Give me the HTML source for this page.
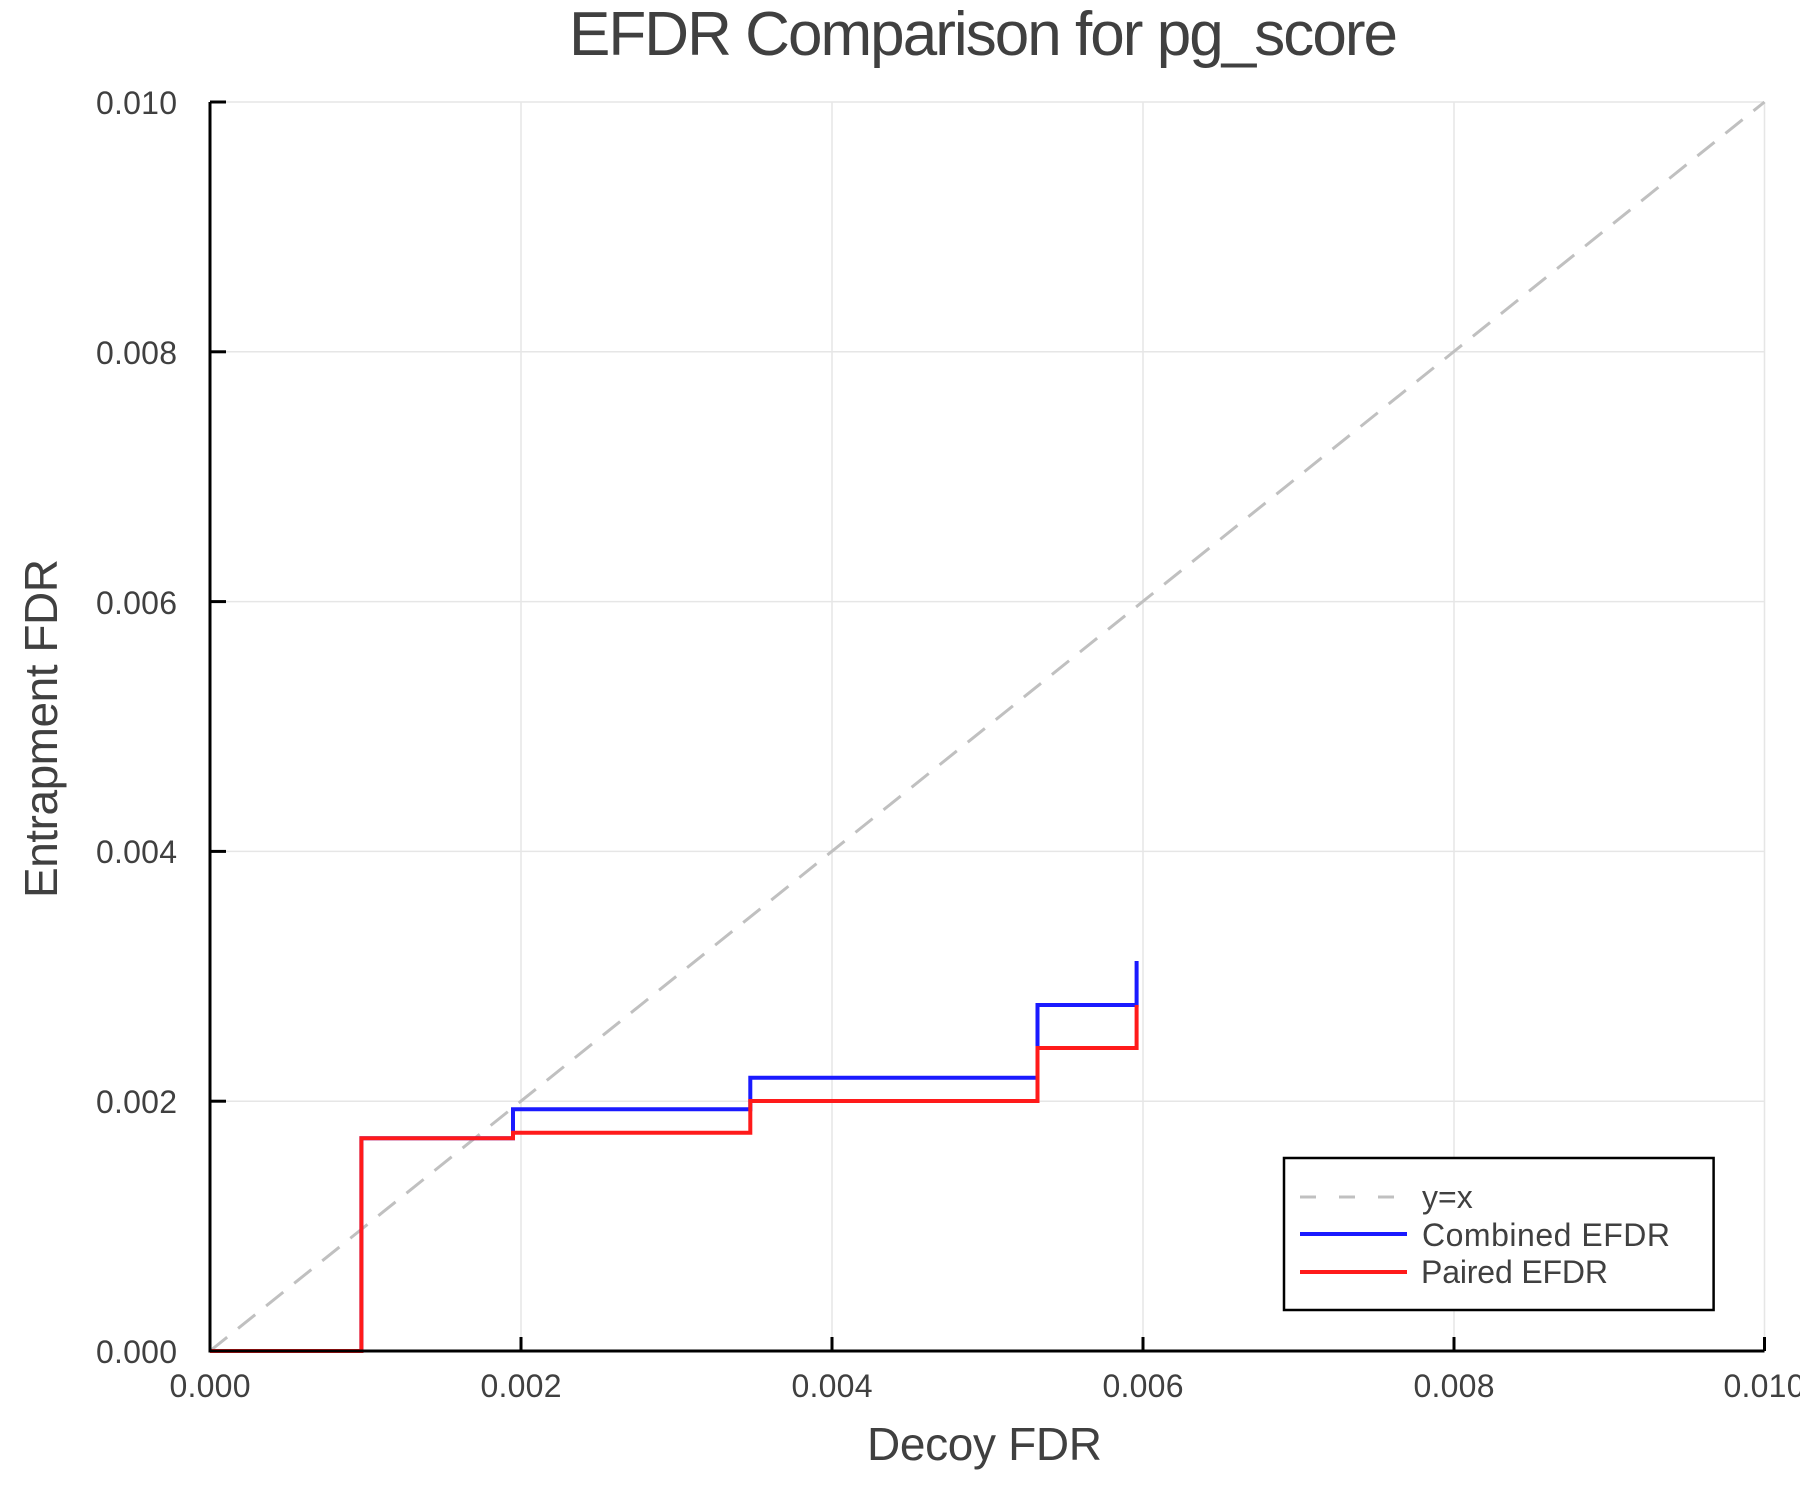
<!DOCTYPE html>
<html><head><style>html,body{margin:0;padding:0;background:#fff}svg{display:block}</style></head>
<body>
<svg width="1800" height="1500" xmlns="http://www.w3.org/2000/svg" font-family="Liberation Sans, sans-serif" fill="#404040">
<rect width="1800" height="1500" fill="#fff"/>
<!-- grid -->
<g stroke="#e6e6e6" stroke-width="1.5">
<line x1="521" y1="102" x2="521" y2="1351"/><line x1="832" y1="102" x2="832" y2="1351"/>
<line x1="1143" y1="102" x2="1143" y2="1351"/><line x1="1454" y1="102" x2="1454" y2="1351"/>
<line x1="1764.5" y1="102" x2="1764.5" y2="1351"/>
<line x1="210" y1="102" x2="1764" y2="102"/><line x1="210" y1="351.8" x2="1764" y2="351.8"/>
<line x1="210" y1="601.6" x2="1764" y2="601.6"/><line x1="210" y1="851.4" x2="1764" y2="851.4"/>
<line x1="210" y1="1101.2" x2="1764" y2="1101.2"/>
</g>
<!-- y=x -->
<line x1="210" y1="1351" x2="1764.5" y2="102" stroke="#c0c0c0" stroke-width="3" stroke-dasharray="22,14"/>
<!-- blue -->
<polyline fill="none" stroke="#1a1aff" stroke-width="4" points="210,1351 361.4,1351 361.4,1138.3 513,1138.3 513,1109.3 750.3,1109.3 750.3,1077.7 1037.5,1077.7 1037.5,1005 1136.6,1005 1136.6,961"/>
<!-- red -->
<polyline fill="none" stroke="#ff1a1a" stroke-width="4" points="210,1351 361.4,1351 361.4,1138.3 513,1138.3 513,1132.7 750.3,1132.7 750.3,1101 1037.5,1101 1037.5,1048 1136.6,1048 1136.6,1005"/>
<!-- axes -->
<g stroke="#000" stroke-width="3" fill="none">
<polyline points="210,102 210,1351 1764.5,1351"/>
<line x1="521" y1="1351" x2="521" y2="1337"/><line x1="832" y1="1351" x2="832" y2="1337"/>
<line x1="1143" y1="1351" x2="1143" y2="1337"/><line x1="1454" y1="1351" x2="1454" y2="1337"/>
<line x1="1764.5" y1="1351" x2="1764.5" y2="1337"/>
<line x1="210" y1="102" x2="226" y2="102"/><line x1="210" y1="351.8" x2="226" y2="351.8"/>
<line x1="210" y1="601.6" x2="226" y2="601.6"/><line x1="210" y1="851.4" x2="226" y2="851.4"/>
<line x1="210" y1="1101.2" x2="226" y2="1101.2"/>
</g>
<!-- tick labels -->
<g font-size="32">
<text x="210" y="1397" text-anchor="middle" textLength="81">0.000</text>
<text x="521" y="1397" text-anchor="middle" textLength="81">0.002</text>
<text x="832" y="1397" text-anchor="middle" textLength="81">0.004</text>
<text x="1143" y="1397" text-anchor="middle" textLength="81">0.006</text>
<text x="1454" y="1397" text-anchor="middle" textLength="81">0.008</text>
<text x="1764" y="1397" text-anchor="middle" textLength="81">0.010</text>
<text x="96" y="1363" textLength="81">0.000</text>
<text x="96" y="1113" textLength="81">0.002</text>
<text x="96" y="863" textLength="81">0.004</text>
<text x="96" y="614" textLength="81">0.006</text>
<text x="96" y="364" textLength="81">0.008</text>
<text x="96" y="114" textLength="81">0.010</text>
</g>
<text x="569" y="55" font-size="62" textLength="829">EFDR Comparison for pg_score</text>
<text x="867" y="1460" font-size="46" textLength="235">Decoy FDR</text>
<text transform="translate(57,898) rotate(-90)" font-size="46" textLength="339">Entrapment FDR</text>
<!-- legend -->
<rect x="1284" y="1158" width="429.6" height="152" fill="#fff" stroke="#000" stroke-width="2.5"/>
<line x1="1300" y1="1197" x2="1407" y2="1197" stroke="#c0c0c0" stroke-width="3" stroke-dasharray="16,23"/>
<line x1="1300" y1="1234" x2="1407" y2="1234" stroke="#1a1aff" stroke-width="4"/>
<line x1="1300" y1="1272" x2="1407" y2="1272" stroke="#ff1a1a" stroke-width="4"/>
<g font-size="32">
<text x="1422" y="1208">y=x</text>
<text x="1422" y="1246" textLength="248">Combined EFDR</text>
<text x="1421" y="1283" textLength="187">Paired EFDR</text>
</g>
</svg>
</body></html>
